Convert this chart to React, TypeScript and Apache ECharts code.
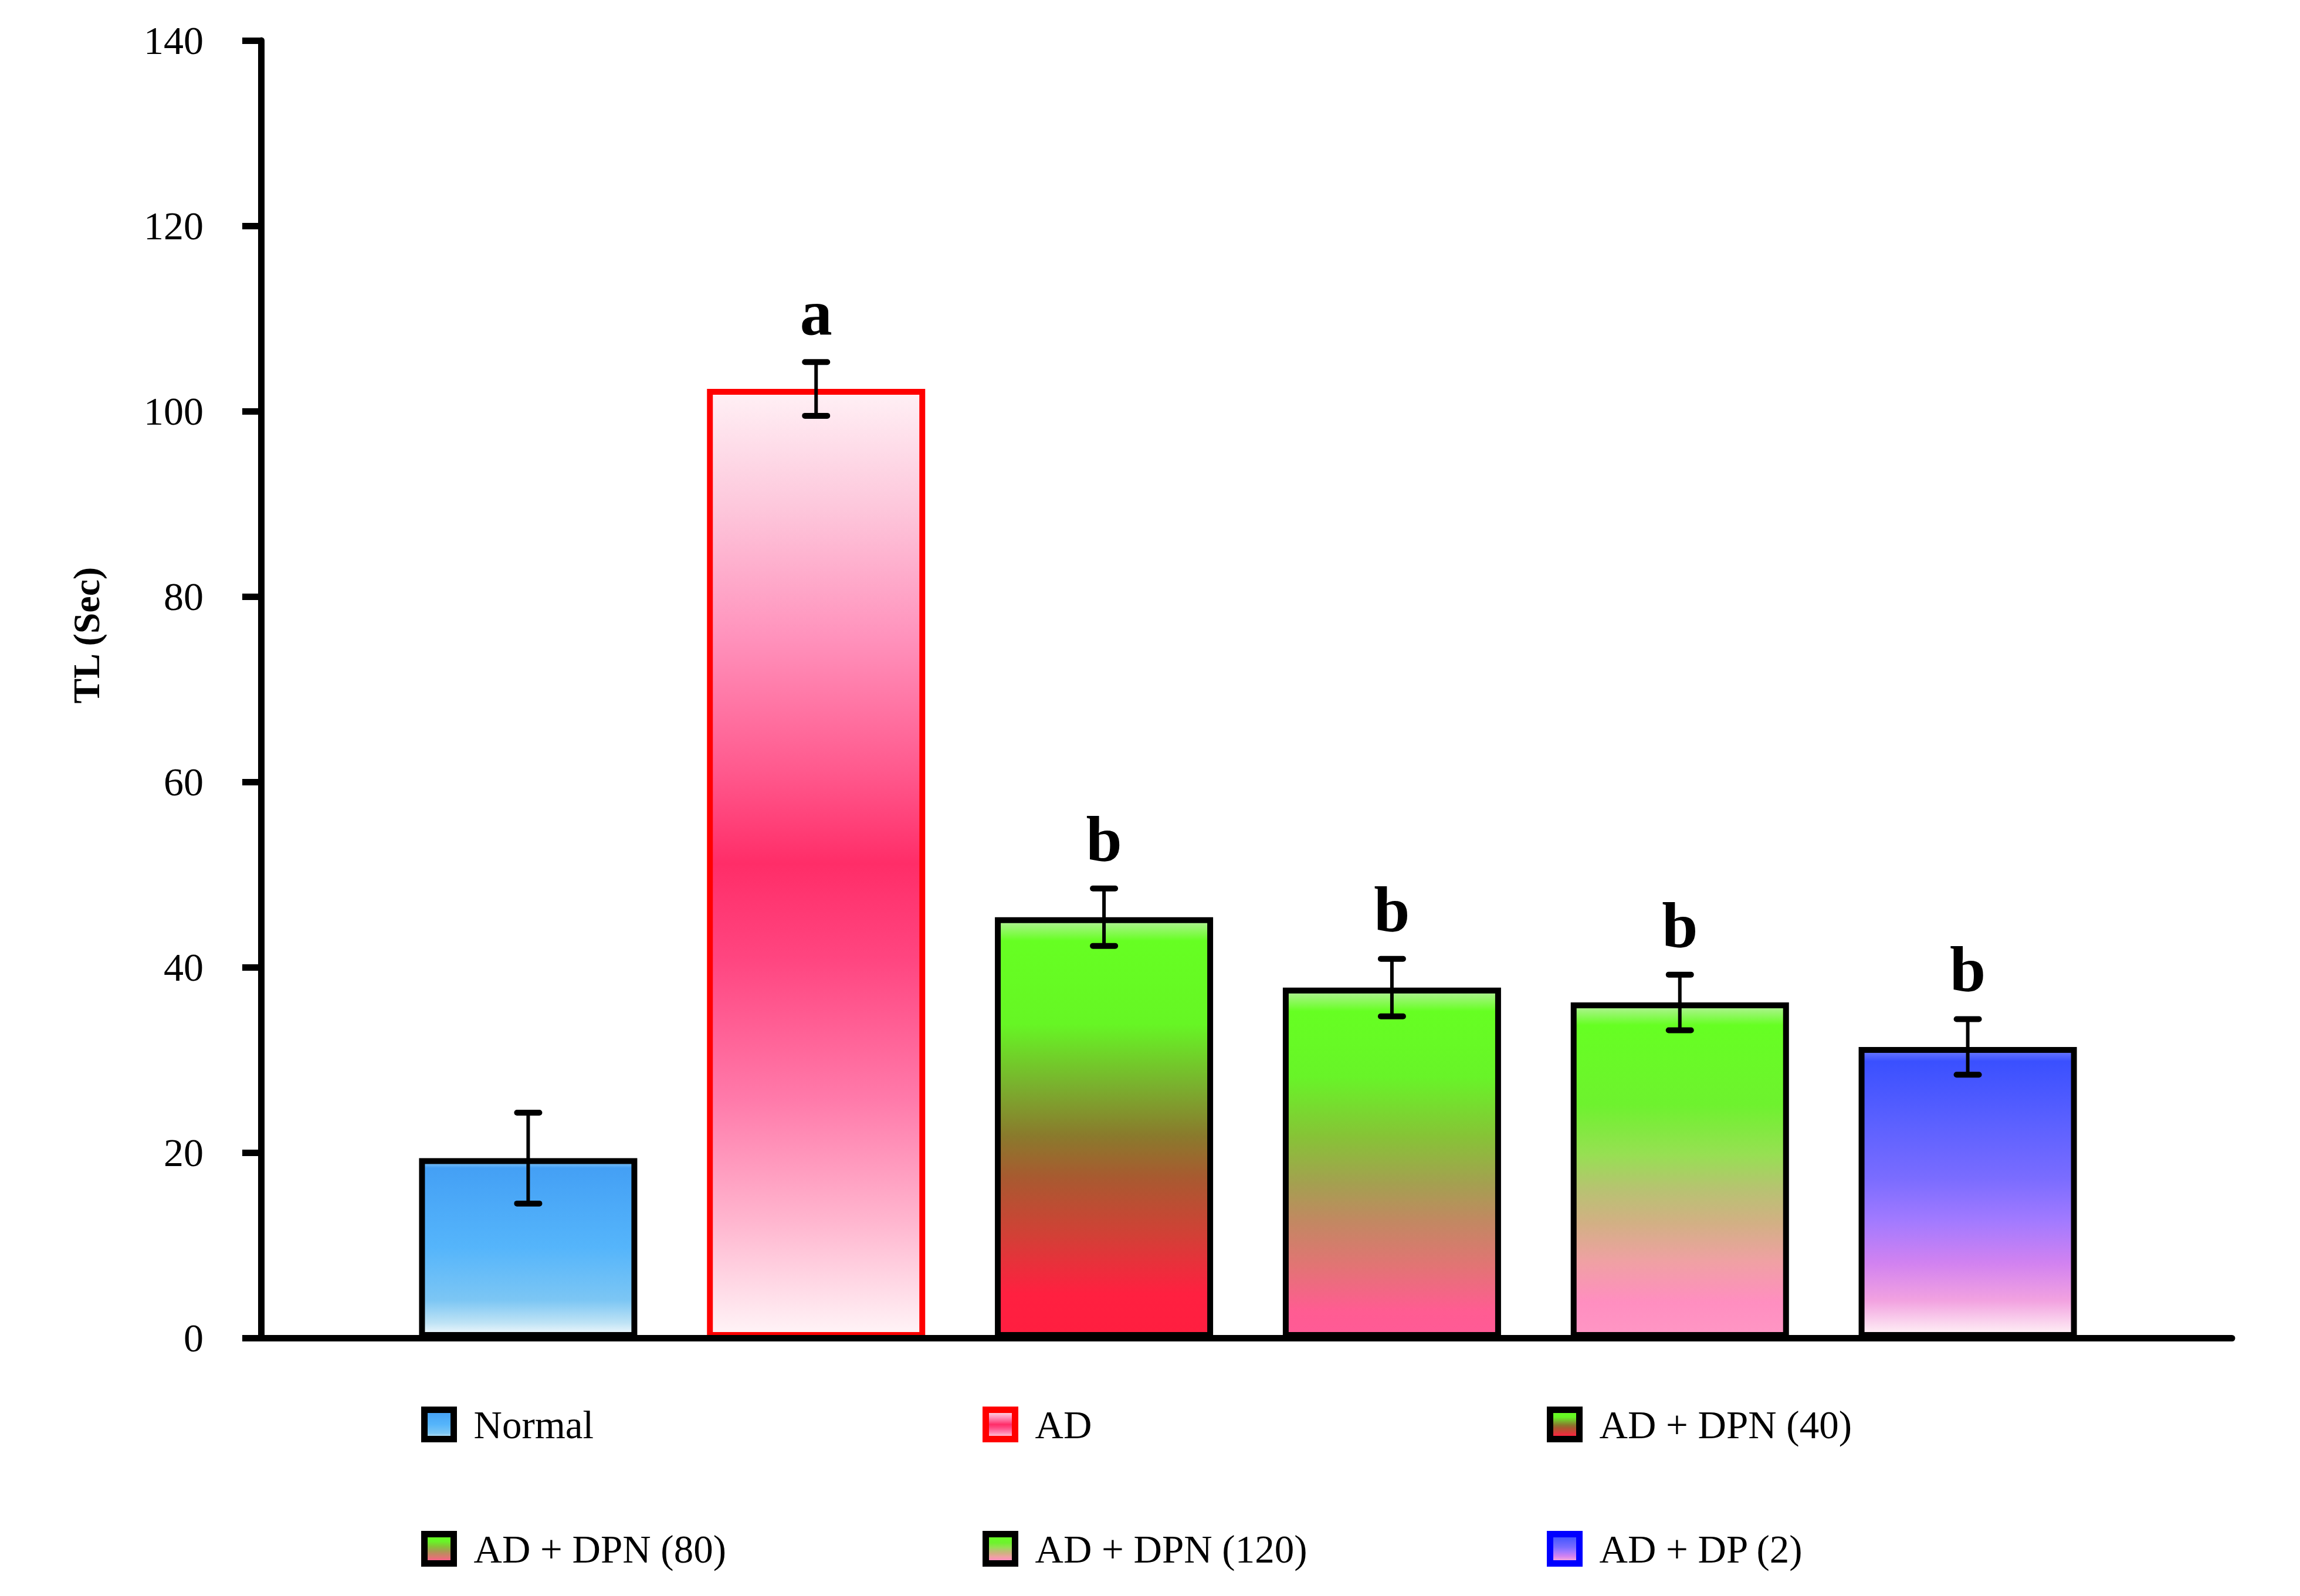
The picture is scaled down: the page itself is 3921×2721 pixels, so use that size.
import React, { useEffect, useRef } from "react";
import * as echarts from "echarts";

// Treatment groups and their transfer latency (mean ± SEM, seconds)
const categories = ["Normal", "AD", "AD + DPN (40)", "AD + DPN (80)", "AD + DPN (120)", "AD + DP (2)"];
const meanLatency = [19.4, 102.4, 45.4, 37.8, 36.2, 31.4];
const semLatency = [4.9, 2.9, 3.1, 3.1, 3.0, 3.0];
const significance = ["", "a", "b", "b", "b", "b"];

// Axis range
const yMin = 0;
const yMax = 140;
const yStep = 20;

// Vertical colour ramps (top -> bottom) for each group
const fillStops: [number, string][][] = [
  [[0, "#8CCBF7"], [0.04, "#44A0F5"], [0.5, "#55B5FB"], [0.8, "#7CC6F4"], [0.93, "#BEE3F5"], [1, "#F2F9FD"]],
  [[0, "#FFF0F5"], [0.12, "#FDC8DC"], [0.26, "#FF92BC"], [0.4, "#FF5A8E"], [0.5, "#FF2D68"], [0.6, "#FF4580"], [0.75, "#FF7AAA"], [0.88, "#FFB6CF"], [1, "#FFF4F7"]],
  [[0, "#B4F29A"], [0.05, "#66FF22"], [0.25, "#66F624"], [0.4, "#7AB02E"], [0.52, "#8A7A2C"], [0.62, "#A85A30"], [0.76, "#D24036"], [0.9, "#FF2040"], [1, "#FF1E40"]],
  [[0, "#B4F29A"], [0.06, "#66FF22"], [0.25, "#68F428"], [0.42, "#86C436"], [0.56, "#A4A050"], [0.67, "#C28862"], [0.8, "#E27474"], [0.93, "#FF5C92"], [1, "#FF5A96"]],
  [[0, "#B4F29A"], [0.06, "#66FF22"], [0.3, "#6EF22E"], [0.45, "#96E052"], [0.56, "#B8C272"], [0.66, "#D2B084"], [0.78, "#F0A0A4"], [0.9, "#FF8EC0"], [1, "#FF96C4"]],
  [[0, "#6F7DFF"], [0.04, "#3A50FF"], [0.25, "#5A60FF"], [0.45, "#7A6CFF"], [0.6, "#A27AFF"], [0.75, "#D282F0"], [0.88, "#F2A2E0"], [1, "#FFF2F6"]],
];
const barBorders = ["#000000", "#FF0000", "#000000", "#000000", "#000000", "#000000"];
const legendBorders = ["#000000", "#FF0000", "#000000", "#000000", "#000000", "#0000FF"];

const SERIF = '"Liberation Serif", "Times New Roman", serif';

function ramp(stops: [number, string][]) {
  return new echarts.graphic.LinearGradient(
    0, 0, 0, 1,
    stops.map(([offset, color]) => ({ offset, color }))
  );
}

function buildOption() {
  const barSeries = categories.map((name, i) => ({
    name,
    type: "bar",
    xAxisIndex: 1,
    yAxisIndex: 1,
    barWidth: 372,
    barGap: "-100%",
    z: 2,
    itemStyle: {
      color: ramp(fillStops[i]),
      borderColor: barBorders[i],
      borderWidth: 10,
    },
    data: categories.map((_, j) => (j === i ? meanLatency[i] : null)),
  }));

  const errorSeries = {
    type: "custom",
    xAxisIndex: 1,
    yAxisIndex: 1,
    z: 4,
    encode: { x: 0, y: 1 },
    data: categories.map((_, i) => [i, meanLatency[i], semLatency[i]]),
    renderItem: (params: any, api: any) => {
      const idx = api.value(0);
      const m = api.value(1);
      const s = api.value(2);
      const top = api.coord([idx, m + s]);
      const bot = api.coord([idx, m - s]);
      const x = top[0];
      const half = 19;
      const lbl = significance[params.dataIndex];
      const children: any[] = [
        { type: "line", shape: { x1: x, y1: top[1], x2: x, y2: bot[1] }, style: { stroke: "#000", lineWidth: 6 } },
        { type: "line", shape: { x1: x - half, y1: top[1], x2: x + half, y2: top[1] }, style: { stroke: "#000", lineWidth: 10, lineCap: "round" } },
        { type: "line", shape: { x1: x - half, y1: bot[1], x2: x + half, y2: bot[1] }, style: { stroke: "#000", lineWidth: 10, lineCap: "round" } },
      ];
      if (lbl) {
        children.push({
          type: "text",
          x,
          y: top[1] - 84,
          style: {
            text: lbl,
            font: `bold 110px ${SERIF}`,
            fill: "#000",
            align: "center",
            verticalAlign: "middle",
          },
        });
      }
      return { type: "group", children };
    },
  };

  const colLeft = [718, 1675, 2637];
  const rowTop = [2395, 2607];
  const legends = categories.map((name, i) => ({
    left: colLeft[i % 3],
    top: rowTop[Math.floor(i / 3)],
    padding: 0,
    itemWidth: 50,
    itemHeight: 50,
    selectedMode: false,
    icon: "rect",
    textStyle: { fontFamily: SERIF, fontSize: 67, color: "#000", padding: [0, 0, 0, 29] },
    data: [
      {
        name,
        icon: "rect",
        itemStyle: {
          color: ramp(fillStops[i]),
          borderColor: legendBorders[i],
          borderWidth: 11,
        },
      },
    ],
  }));

  return {
    animation: false,
    backgroundColor: "#ffffff",
    textStyle: { fontFamily: SERIF },
    grid: [
      { left: 445, right: 116, top: 69, bottom: 440 },
      { left: 655, right: 321, top: 69, bottom: 440 },
    ],
    xAxis: [
      {
        type: "value",
        gridIndex: 0,
        min: 0,
        max: 1,
        z: 6,
        axisLine: { show: true, onZero: false, lineStyle: { color: "#000", width: 11 } },
        axisTick: { show: false },
        axisLabel: { show: false },
        splitLine: { show: false },
      },
      {
        type: "category",
        gridIndex: 1,
        data: categories,
        axisLine: { show: false },
        axisTick: { show: false },
        axisLabel: { show: false },
        splitLine: { show: false },
      },
    ],
    yAxis: [
      {
        type: "value",
        gridIndex: 0,
        min: yMin,
        max: yMax,
        interval: yStep,
        z: 6,
        axisLine: { show: true, lineStyle: { color: "#000", width: 11 } },
        axisTick: { show: true, inside: false, length: 32, lineStyle: { color: "#000", width: 11 } },
        axisLabel: { show: true, margin: 98, color: "#000", fontSize: 68, fontFamily: SERIF },
        splitLine: { show: false },
      },
      {
        type: "value",
        gridIndex: 1,
        min: yMin,
        max: yMax,
        interval: yStep,
        show: false,
        splitLine: { show: false },
      },
    ],
    legend: legends,
    graphic: [
      {
        type: "text",
        x: 147,
        y: 1083,
        rotation: Math.PI / 2,
        style: {
          text: "TL (Sec)",
          font: `bold 64px ${SERIF}`,
          fill: "#000",
          align: "center",
          verticalAlign: "middle",
        },
      },
    ],
    series: [...barSeries, errorSeries],
  };
}

export default function App() {
  const ref = useRef<HTMLDivElement>(null);
  useEffect(() => {
    if (!ref.current) return;
    const chart = echarts.init(ref.current, undefined, { renderer: "svg" });
    chart.setOption(buildOption() as any);
    return () => chart.dispose();
  }, []);
  return (
    <div
      ref={ref}
      style={{ position: "fixed", left: 0, top: 0, width: 3921, height: 2721, background: "#fff" }}
    />
  );
}
